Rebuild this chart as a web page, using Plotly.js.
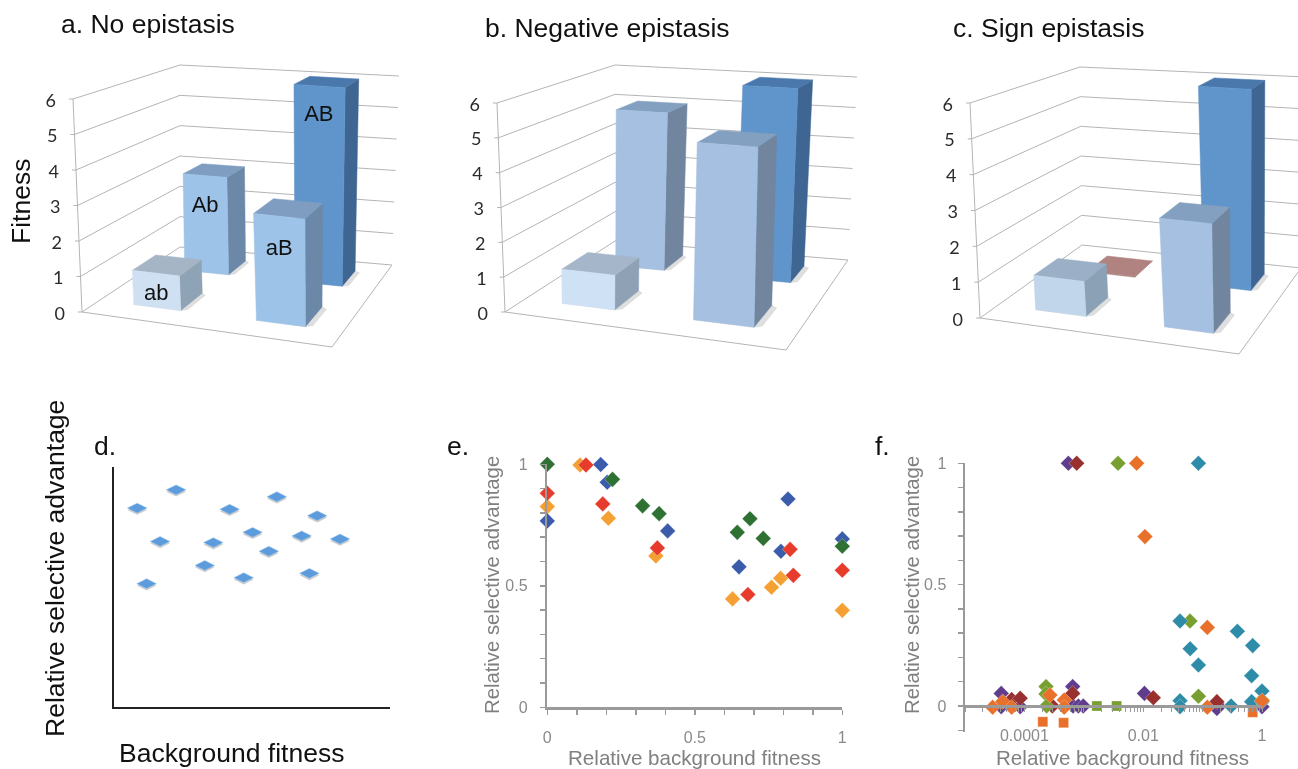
<!DOCTYPE html>
<html><head><meta charset="utf-8">
<script src="https://cdn.plot.ly/plotly-3.0.1.min.js"></script>
<style>html,body{margin:0;padding:0;background:#fff}#g{width:1298px;height:769px;filter:blur(.45px)}</style>
</head><body><div id="g"></div>
<script>
// ---------- data ----------
const genotypes = ['ab','Ab','aB','AB'];
const fitnessTicks = [0,1,2,3,4,5,6];
const fitnessA = [0.98,3,3,6];
const fitnessB = [1,5,5,6];
const fitnessC = [0.98,0.03,3,6];

const dX = [.084,.225,.167,.118,.419,.360,.329,.502,.470,.590,.561,.680,.708,.736,.819];
const dY = [.829,.905,.690,.514,.824,.685,.590,.728,.539,.876,.649,.713,.557,.797,.700];

const eBlueX = [0,.181,.203,.408,.650,.792,.816,1];
const eBlueY = [.767,.999,.926,.726,.578,.642,.857,.693];
const eGreenX = [0,.221,.323,.379,.644,.687,.732,1];
const eGreenY = [1,.938,.829,.797,.720,.776,.695,.663];
const eRedX = [0,.131,.188,.373,.680,.823,.834,1];
const eRedY = [.881,.997,.837,.656,.464,.650,.543,.564];
const eOrangeX = [0,.111,.207,.368,.628,.760,.791,1];
const eOrangeY = [.826,.997,.778,.623,.446,.494,.531,.399];

const fPurpleX = [5.5e-4,4.07e-5,4.07e-5,8.5e-5,6.5e-4,6.6e-4,8.1e-4,9.8e-4,.0105,.174,.174,1];
const fPurpleY = [1,.052,-.003,-.003,.08,0,0,0,.052,.008,-.01,-.003];
const fDarkRedX = [7.6e-4,6.1e-5,8.5e-5,6.5e-4,.0148,2.95e-4,.174];
const fDarkRedY = [1,.027,.032,.052,.034,0,.018];
const fGreenX = [.00377,2.31e-4,2.31e-4,2.37e-4,.0614,.0851,1];
const fGreenY = [1,.08,.05,0,.35,.04,.025];
const fGreenSquareX = [.00166,.00357];
const fGreenSquareY = [0,0];
const fTealX = [.0851,.0417,.0617,.0851,.385,.697,.67,1,.0417,.0417,.302,.67,1];
const fTealY = [1,.35,.236,.169,.308,.249,.125,.062,.022,-.003,0,.018,.018];
const fOrangeX = [.00776,.0107,.12,2.92e-5,4.3e-5,6.1e-5,2.69e-4,4.68e-4,4.68e-4,.12,1];
const fOrangeY = [1,.698,.324,-.005,.018,-.005,.045,.025,-.005,-.005,.022];
const fOrangeSquareX = [2.04e-4,4.57e-4,.697];
const fOrangeSquareY = [-.065,-.069,-.026];

// ---------- page-pixel helpers and 3-D projection ----------
const W = 1298, H = 769;
const px = x => x / W, py = y => 1 - y / H;
function homography(q){
  const [p0,p1,p2,p3] = q;
  const dx1=p1[0]-p2[0],dx2=p3[0]-p2[0],sx=p0[0]-p1[0]+p2[0]-p3[0];
  const dy1=p1[1]-p2[1],dy2=p3[1]-p2[1],sy=p0[1]-p1[1]+p2[1]-p3[1];
  const det=dx1*dy2-dx2*dy1;
  const g=(sx*dy2-dx2*sy)/det,h=(dx1*sy-sx*dy1)/det;
  const a=p1[0]-p0[0]+g*p1[0],b=p3[0]-p0[0]+h*p3[0],c=p0[0];
  const d=p1[1]-p0[1]+g*p1[1],e=p3[1]-p0[1]+h*p3[1],f=p0[1];
  return (u,v)=>{const w=g*u+h*v+1;return [(a*u+b*v+c)/w,(d*u+e*v+f)/w];};
}
const traces = [];
function projector(floor, top){
  const F=homography(floor),T=homography(top);
  return (u,v,z)=>{const a=F(u,v),b=T(u,v),t=z/6;return [a[0]+(b[0]-a[0])*t,a[1]+(b[1]-a[1])*t];};
}
function poly(pts,color){
  const c=pts.concat([pts[0]]);
  traces.push({type:'scatter',mode:'lines',x:c.map(p=>p[0]),y:c.map(p=>p[1]),fill:'toself',fillcolor:color,
    line:{color:color,width:0.5},hoverinfo:'skip',showlegend:false,xaxis:'x',yaxis:'y'});
}
function line(pts,color,width){
  traces.push({type:'scatter',mode:'lines',x:pts.map(p=>p[0]),y:pts.map(p=>p[1]),
    line:{color:color||'#b4b4b4',width:width||1},hoverinfo:'skip',showlegend:false,xaxis:'x',yaxis:'y'});
}
// footprint of each bar on the floor, per genotype: ab, Ab, aB, AB
const footprintAC = [[.16,.37],[.175,.385],[.68,.865],[.68,.875]];
const footprintB = [[.155,.365],[.155,.365],[.655,.86],[.655,.86]];
const rowCells = [[.155,.38],[.65,.87]];
const rowOf = [0,1,0,1];
const drawOrder = [1,3,0,2];
const labelHeight = [.38,.68,.69,.85];

function panel3d(values,floor,top,colors,footprint,labelled){
  const P=projector(floor,top);
  fitnessTicks.forEach(t=>{
    line([P(0,0,t),P(0,1,t),P(1,1,t)]);
    const a=P(0,0,t);
    line([[a[0]-4,a[1]],a]);
  });
  line([P(0,0,0),P(0,0,6)]);
  line([P(0,0,0),P(1,0,0),P(1,1,0)]);
  const tp=fitnessTicks.map(t=>P(0,0,t));
  traces.push({type:'scatter',mode:'text',x:tp.map(p=>p[0]-17),y:tp.map(p=>p[1]+3),text:fitnessTicks.map(String),
    textposition:'middle left',textfont:{family:'Lato, sans-serif',size:18,color:'#2b2b2b'},
    hoverinfo:'skip',showlegend:false,cliponaxis:false,xaxis:'x',yaxis:'y'});
  drawOrder.forEach(i=>{
    const [u0,u1]=footprint[i],[v0,v1]=rowCells[rowOf[i]],z=values[i],col=colors[i];
    if(z>0.2) poly([P(u0,v0,0),P(u1,v0,0),P(u1+.022,v0+.02,0),P(u1+.022,v1-.02,0),P(u1,v1,0),P(u0,v1,0)],'rgba(110,110,110,.22)');
    poly([P(u1,v0,0),P(u1,v1,0),P(u1,v1,z),P(u1,v0,z)],col[2]);
    poly([P(u0,v0,z),P(u1,v0,z),P(u1,v1,z),P(u0,v1,z)],col[1]);
    poly([P(u0,v0,0),P(u1,v0,0),P(u1,v0,z),P(u0,v0,z)],col[0]);
  });
  if(labelled){
    const lp=genotypes.map((g,i)=>{const [u0,u1]=footprint[i],v0=rowCells[rowOf[i]][0];return P((u0+u1)/2,v0,values[i]*labelHeight[i]);});
    traces.push({type:'scatter',mode:'text',x:lp.map(p=>p[0]),y:lp.map(p=>p[1]),text:genotypes,textposition:'middle center',
      textfont:{family:'Liberation Sans, Arial, sans-serif',size:22,color:'#111'},hoverinfo:'skip',showlegend:false,cliponaxis:false,xaxis:'x',yaxis:'y'});
  }
}
const mid=['#9dc3e8','#7f9dc0','#6c88a8'], midB=['#a5c0e0','#84a0c0','#71859f'], dark=['#5f95ca','#4a78ac','#3f6692'];
panel3d(fitnessA,[[82,312],[332,347],[392,265],[180,247]],[[73,99],[335,125],[399,76],[180,65]],
  [['#cfe0f3','#a5b5c6','#8fa3b6'],mid,mid,dark],footprintAC,true);
panel3d(fitnessB,[[505,312],[786,350],[848,260],[615,241]],[[497,103],[789,122],[857,77],[615,65]],
  [['#cfe1f4','#a5b6ca','#8fa2b5'],midB,midB,dark],footprintB,false);
panel3d(fitnessC,[[980,318],[1239,354],[1301,268],[1082,245]],[[970,103],[1242,128],[1306,77],[1080,67]],
  [['#c1d6ea','#9bb0c6','#8ba1b5'],['#b08380','#b08380','#b08380'],midB,dark],footprintAC,false);

function markers(x,y,color,ax,ay,symbol,size,lineColor){
  traces.push({type:'scatter',mode:'markers',x:x,y:y,xaxis:ax,yaxis:ay,cliponaxis:false,showlegend:false,
    marker:{symbol:symbol||'diamond',size:size||12,color:color,line:{color:lineColor||'rgba(255,255,255,.55)',width:.5}}});
}
markers(dX,dY.map(v=>v-.008),'rgba(90,90,90,.3)','x2','y2','diamond-wide',14,'rgba(0,0,0,0)');
markers(dX,dY,'#5c9bdc','x2','y2','diamond-wide',14,'rgba(150,195,235,.9)');

markers(eOrangeX,eOrangeY,'#f4a032','x3','y3');
markers(eBlueX,eBlueY,'#3a5cab','x3','y3');
markers(eGreenX,eGreenY,'#2f7033','x3','y3');
markers(eRedX,eRedY,'#e73c2c','x3','y3');

markers(fPurpleX,fPurpleY,'#5f3c8e','x4','y4');
markers(fDarkRedX,fDarkRedY,'#97302f','x4','y4');
markers(fGreenX,fGreenY,'#789f30','x4','y4');
markers(fGreenSquareX,fGreenSquareY,'#789f30','x4','y4','square',10);
markers(fTealX,fTealY,'#2f8ca9','x4','y4');
markers(fOrangeX,fOrangeY,'#e9702a','x4','y4');
markers(fOrangeSquareX,fOrangeSquareY,'#e9702a','x4','y4','square',10);

// ---------- axes ----------
const grey='#9a9a9a', tickGrey='#8a8a8a';
const tenths=[0,.1,.2,.3,.4,.5,.6,.7,.8,.9,1];
const halfLabels=tenths.map(v=>v===0?'0':v===.5?'0.5':v===1?'1':'');
const logTickVals=[],logTickText=[];
for(let e=-5;e<=0;e++){for(let m=1;m<=(e===0?1:9);m++){
  const v=m*Math.pow(10,e);logTickVals.push(v);
  logTickText.push(m!==1?'':e===-4?'0.0001':e===-2?'0.01':e===0?'1':'');
}}
const valueAxis={showgrid:false,zeroline:false,showline:true,linecolor:grey,linewidth:2.5,ticks:'outside',ticklen:5,tickwidth:1.5,tickcolor:grey,
  tickfont:{family:'Liberation Sans, Arial, sans-serif',size:16,color:tickGrey},tickmode:'array',fixedrange:true};
const layout={
  width:W,height:H,margin:{l:0,r:0,t:0,b:0},paper_bgcolor:'#fff',plot_bgcolor:'rgba(0,0,0,0)',showlegend:false,hovermode:false,
  xaxis:{domain:[0,1],range:[0,W],visible:false,fixedrange:true},
  yaxis:{domain:[0,1],range:[H,0],visible:false,fixedrange:true},
  xaxis2:{domain:[px(114),px(390)],range:[0,1],anchor:'y2',showgrid:false,zeroline:false,showline:true,linecolor:'#222',linewidth:2,ticks:'',showticklabels:false,fixedrange:true},
  yaxis2:{domain:[py(707),py(467)],range:[0,1],anchor:'x2',showgrid:false,zeroline:false,showline:true,linecolor:'#222',linewidth:2,ticks:'',showticklabels:false,fixedrange:true},
  xaxis3:Object.assign({},valueAxis,{domain:[px(547.3),px(842.3)],range:[0,1],anchor:'y3',tickvals:tenths,ticktext:halfLabels,ticklabelstandoff:9}),
  yaxis3:Object.assign({},valueAxis,{domain:[py(707.3),py(464.3)],range:[0,1],anchor:'x3',tickvals:tenths,ticktext:halfLabels,ticklabelstandoff:9}),
  xaxis4:Object.assign({},valueAxis,{type:'log',domain:[px(965),px(1262)],range:[-5,0],anchor:'free',position:py(706),tickvals:logTickVals,ticktext:logTickText,ticklen:4,tickwidth:1,ticklabelstandoff:10}),
  yaxis4:Object.assign({},valueAxis,{domain:[py(731.5),py(463.3)],range:[-.105,1],anchor:'x4',tickvals:[-.1].concat(tenths),ticktext:[''].concat(halfLabels),ticklabelstandoff:8}),
  annotations:[]
};
function note(text,x,y,size,color,angle,family){
  layout.annotations.push({text:text,xref:'paper',yref:'paper',x:px(x),y:py(y),xanchor:'center',yanchor:'middle',showarrow:false,textangle:angle||0,
    font:{family:family||'Liberation Sans, Arial, sans-serif',size:size,color:color||'#111'}});
}
note('a. No epistasis',148,24,26.5);
note('b. Negative epistasis',607,28,26.5);
note('c. Sign epistasis',1048,28,26.5);
note('Fitness',21,202,26.5,'#111',-90);
note('Relative selective advantage',55,569,26.5,'#111',-90);
note('Background fitness',231,753,26.5);
note('d.',105,446,26.5);
note('e.',458,446,26.5);
note('f.',882,446,26.5);
note('Relative selective advantage',492,585,20.3,'#808080',-90);
note('Relative background fitness',694,757,20.6,'#808080');
note('Relative selective advantage',912,585,20.3,'#808080',-90);
note('Relative background fitness',1122,757,20.6,'#808080');

Plotly.newPlot('g',traces,layout,{displayModeBar:false,staticPlot:true});
</script></body></html>
